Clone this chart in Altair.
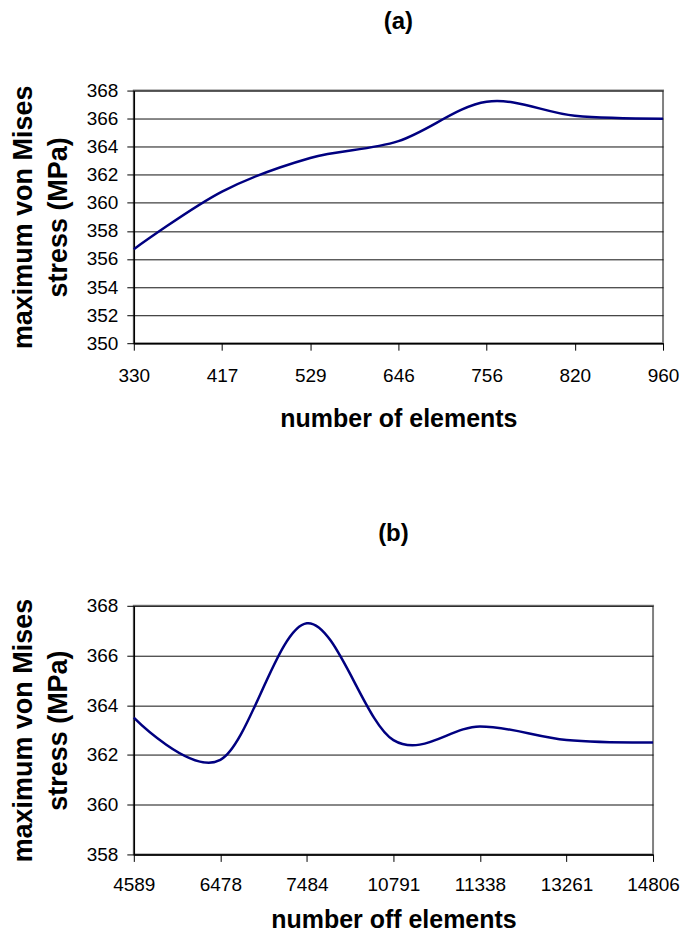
import altair as alt
import pandas as pd

# Panel (a)
elements_a = ["330", "417", "529", "646", "756", "820", "960"]
stress_a = [356.7, 360.8, 363.2, 364.4, 367.2, 366.2, 366.0]
yticks_a = [350, 352, 354, 356, 358, 360, 362, 364, 366, 368]

# Panel (b)
elements_b = ["4589", "6478", "7484", "10791", "11338", "13261", "14806"]
stress_b = [363.5, 361.8, 367.3, 362.6, 363.15, 362.6, 362.5]
yticks_b = [358, 360, 362, 364, 366, 368]

FONT = "Liberation Sans"
LINE_COLOR = "#000080"
YTITLE = ["maximum von Mises", "stress (MPa)"]


def panel(xs, ys, yticks, title, xtitle, w, h, toff, xlp, xtp):
    df = pd.DataFrame({"n": xs, "s": ys})
    return (
        alt.Chart(df)
        .mark_line(interpolate="cardinal", tension=0, color=LINE_COLOR, strokeWidth=2.5)
        .encode(
            x=alt.X(
                "n:O",
                sort=xs,
                scale=alt.Scale(type="point", padding=0),
                axis=alt.Axis(title=xtitle, labelAngle=0, grid=False, titlePadding=xtp,
                              labelPadding=xlp, titleFontSize=25),
            ),
            y=alt.Y(
                "s:Q",
                scale=alt.Scale(domain=[yticks[0], yticks[-1]], nice=False, zero=False),
                axis=alt.Axis(title=YTITLE, values=yticks, grid=True, titlePadding=14,
                              labelPadding=9, titleFontSize=27),
            ),
        )
        .properties(
            width=w,
            height=h,
            title=alt.TitleParams(title, fontSize=24, font=FONT, fontWeight="bold",
                                  anchor="middle", frame="group", offset=toff, color="black"),
        )
    )


a = panel(elements_a, stress_a, yticks_a, "(a)", "number of elements", 530, 253, 48, 16, 21)
b = panel(elements_b, stress_b, yticks_b, "(b)", "number off elements", 520, 249, 51, 14, 13)

chart = (
    alt.vconcat(a, b, spacing=89)
    .resolve_scale(x="independent", y="independent")
    .configure(background="white", padding=0)
    .configure_view(stroke="#808080", strokeWidth=2)
    .configure_axis(
        labelFont=FONT,
        labelFontSize=19,
        labelColor="black",
        titleFont=FONT,
        titleFontWeight="bold",
        titleColor="black",
        titleLineHeight=35,
        domainColor="black",
        domainWidth=1.5,
        tickColor="black",
        tickSize=7,
        gridColor="#111111",
        gridWidth=1,
        gridOpacity=1,
    )
)

chart.save("out.html", embed_options={"renderer": "svg", "actions": False})
